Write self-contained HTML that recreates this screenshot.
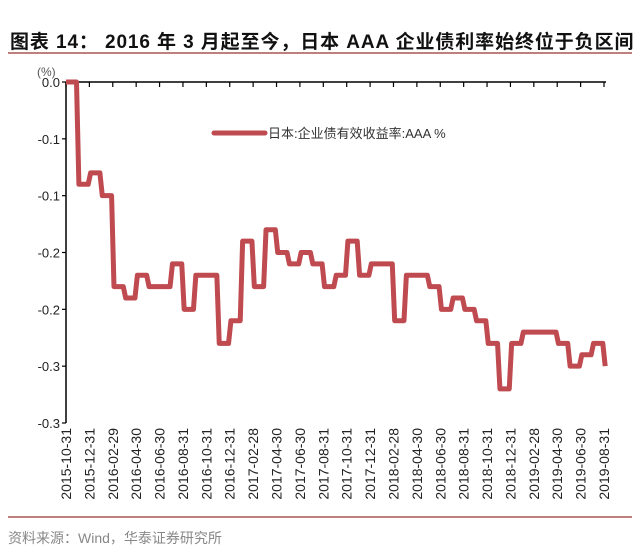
<!DOCTYPE html>
<html><head><meta charset="utf-8">
<style>
body{margin:0;background:#fff;width:640px;height:559px;overflow:hidden;font-family:"Liberation Sans","Noto Sans CJK SC",sans-serif;}
#title{position:absolute;left:10px;top:27px;font-size:19px;font-weight:bold;color:#111;white-space:nowrap;letter-spacing:0.9px}
#src{position:absolute;left:8px;top:528px;font-size:14px;color:#888;white-space:nowrap}
</style></head><body>
<div id="title">图表 14：  2016 年 3 月起至今，日本 AAA 企业债利率始终位于负区间</div>
<svg width="640" height="559" style="position:absolute;left:0;top:0">
<line x1="8" y1="53" x2="632" y2="53" stroke="#c07f7f" stroke-width="2"/>
<line x1="8" y1="517" x2="632" y2="517" stroke="#c07f7f" stroke-width="2"/>
<g id="g"></g>
</svg>
<div id="src">资料来源：Wind，华泰证券研究所</div>
<script>
const values=[0,-0.09,-0.08,-0.10,-0.18,-0.19,-0.17,-0.18,-0.18,-0.16,-0.20,-0.17,-0.17,-0.23,-0.21,-0.14,-0.18,-0.13,-0.15,-0.16,-0.15,-0.16,-0.18,-0.17,-0.14,-0.17,-0.16,-0.16,-0.21,-0.17,-0.17,-0.18,-0.20,-0.19,-0.20,-0.21,-0.23,-0.27,-0.23,-0.22,-0.22,-0.22,-0.23,-0.25,-0.24,-0.23,-0.25];
const xLabels=["2015-10-31","2015-12-31","2016-02-29","2016-04-30","2016-06-30","2016-08-31","2016-10-31","2016-12-31","2017-02-28","2017-04-30","2017-06-30","2017-08-31","2017-10-31","2017-12-31","2018-02-28","2018-04-30","2018-06-30","2018-08-31","2018-10-31","2018-12-31","2019-02-28","2019-04-30","2019-06-30","2019-08-31"];
const yTicks=[0,-0.05,-0.1,-0.15,-0.2,-0.25,-0.3];
const yTickLabels=["0.0","-0.1","-0.1","-0.2","-0.2","-0.3","-0.3"];
const X0=66,X1=604,Y0=82,Y1=423,N=values.length;
const sx=i=>X0+(X1-X0)*i/(N-1);
const sy=v=>Y0+(Y1-Y0)*(v-0)/(-0.3-0);
const g=document.getElementById('g');const NS='http://www.w3.org/2000/svg';
function mk(t,a,txt){const e=document.createElementNS(NS,t);for(const k in a)e.setAttribute(k,a[k]);if(txt!=null)e.textContent=txt;g.appendChild(e);return e;}
let e=mk('line',{x1:X0,y1:Y0,x2:X1+2,y2:Y0,stroke:'#000','stroke-width':1.5});

e=mk('line',{x1:X0,y1:Y0,x2:X0,y2:Y1,stroke:'#000','stroke-width':1.5});

yTicks.forEach((v,i)=>{const y=sy(v);
 let t=mk('line',{x1:X0-4,y1:y,x2:X0,y2:y,stroke:'#000','stroke-width':1.2});
 
 let l=mk('text',{x:X0-6,y:y+5,'text-anchor':'end','font-size':13,fill:'#222'},yTickLabels[i]);
 });
let u=mk('text',{x:37,y:76,'font-size':12,fill:'#555'},'(%)');

xLabels.forEach((s,k)=>{const x=sx(k*2);
 let t=mk('line',{x1:x,y1:Y0,x2:x,y2:Y0+5,stroke:'#000','stroke-width':1.2});
 
 let l=mk('text',{x:0,y:0,'text-anchor':'end','font-size':14,fill:'#222',transform:`translate(${x+5},428) rotate(-90)`},s);
 });
let pts=[];const d=(X1-X0)/(N-1);
for(let i=0;i<N;i++){pts.push((i?sx(i)+1.2:sx(i))+','+sy(values[i]));if(i<N-1)pts.push((sx(i+1)-1.2)+','+sy(values[i]));}
let p=mk('polyline',{points:pts.join(' '),fill:'none',stroke:'#bf4a4f','stroke-width':5,'stroke-linejoin':'round'});

let ll=mk('line',{x1:214,y1:133,x2:265,y2:133,stroke:'#bf4a4f','stroke-width':5,'stroke-linecap':'round'});

let lt=mk('text',{x:268,y:138,'font-size':13,fill:'#333'},'日本:企业债有效收益率:AAA %');

</script>
</body></html>
